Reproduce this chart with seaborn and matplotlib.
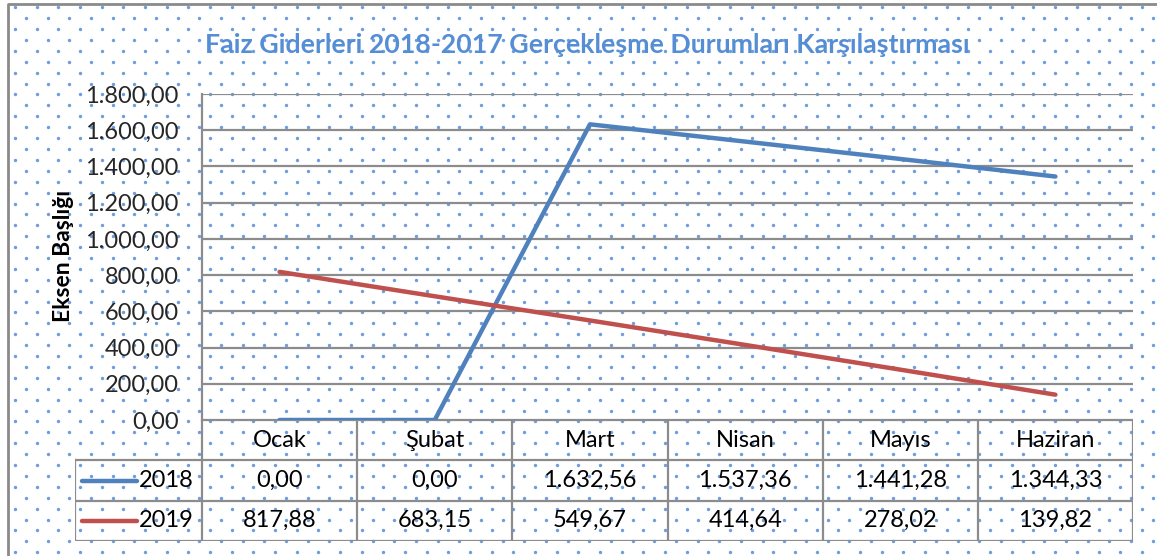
import numpy as np
import pandas as pd
import matplotlib
matplotlib.use("Agg")
import matplotlib.pyplot as plt
import seaborn as sns

# --- data ---
MONTHS = ['Ocak', 'Şubat', 'Mart', 'Nisan', 'Mayıs', 'Haziran']
SERIES = ['2018', '2019']
VALUES_2018 = [0.00, 0.00, 1632.56, 1537.36, 1441.28, 1344.33]
VALUES_2019 = [817.88, 683.15, 549.67, 414.64, 278.02, 139.82]
Y_TICKS = [0, 200, 400, 600, 800, 1000, 1200, 1400, 1600, 1800]
TITLE = 'Faiz Giderleri 2018-2017 Gerçekleşme Durumları Karşılaştırması'
Y_LABEL = 'Eksen Başlığı'
COLORS = {'2018': '#4F81BD', '2019': '#C0504D'}

GRID = '#8c8c8c'
DOT = '#6d9ddb'


def tr_fmt(v):
    """Türkçe sayı biçimi: 1.632,56"""
    s = f"{v:,.2f}"
    return s.replace(',', 'X').replace('.', ',').replace('X', '.')


df = pd.DataFrame({
    'ay': MONTHS * 2,
    'seri': ['2018'] * len(MONTHS) + ['2019'] * len(MONTHS),
    'deger': VALUES_2018 + VALUES_2019,
})
df['idx'] = list(range(len(MONTHS))) * 2

sns.set_theme(style='white')
plt.rcParams['font.family'] = ['Lato', 'DejaVu Sans']

W, H = 1157, 556
fig = plt.figure(figsize=(W / 100, H / 100), dpi=100)

# --- dotted background (Excel pattern fill) ---
bg = fig.add_axes([0, 0, 1, 1])
bg.set_xlim(0, W)
bg.set_ylim(H, 0)
bg.axis('off')
dx, dy = 21.67, 10.9
pts = []
for r, yy in enumerate(np.arange(7.3, H, dy)):
    x0 = 15 if r % 2 == 0 else 15 + dx / 2
    for xx in np.arange(x0, W, dx):
        pts.append((xx, yy))
pts = np.array(pts)
bg.scatter(pts[:, 0], pts[:, 1], s=6, color=DOT, linewidths=0, zorder=0)
bg.plot([8, 8, W], [H, 4, 4], color='#8a8a8a', lw=2, zorder=1)

# --- plot area ---
left, right = 202 / W, 1133 / W
bottom, top = 1 - 420 / H, 1 - 94 / H
ax = fig.add_axes([left, bottom, right - left, top - bottom])
ax.patch.set_alpha(0)
sns.lineplot(data=df, x='idx', y='deger', hue='seri', palette=COLORS,
             linewidth=3.2, legend=False, sort=False, ax=ax, zorder=3)
ax.set_xlim(-0.5, len(MONTHS) - 0.5)
ax.set_ylim(0, 1800)
ax.set_yticks(Y_TICKS)
ax.set_yticklabels([tr_fmt(v) for v in Y_TICKS], fontsize=17)
ax.set_xticks([])
ax.tick_params(axis='y', length=0, pad=17)
ax.yaxis.grid(True, color=GRID, lw=1.6)
ax.set_axisbelow(True)
for s in ['top', 'right', 'bottom']:
    ax.spines[s].set_visible(False)
ax.spines['left'].set_color(GRID)
ax.spines['left'].set_linewidth(1.6)
ax.set_xlabel('')
ax.set_ylabel('')

fig.text(63 / W, 1 - 256 / H, Y_LABEL, rotation=90, ha='center', va='center',
         fontsize=16.5, fontweight='bold', color='black')
fig.text(587 / W, 1 - 45 / H, TITLE, ha='center', va='center',
         fontsize=19.3, fontweight='bold', color='#558ED5')

# --- data table ---
cw = 155.0
leg_w = (202 - 75) / cw
tb = fig.add_axes([75 / W, 1 - 541 / H, (1133 - 75) / W, (541 - 420) / H])
tb.patch.set_alpha(0)
tb.axis('off')
tb.set_xlim(-0.5 - leg_w, len(MONTHS) - 0.5)
tb.set_ylim(3, 0)
n = len(MONTHS)
kw = dict(color=GRID, lw=1.6, solid_capstyle='projecting')
# horizontal lines
tb.plot([-0.5, n - 0.5], [0, 0], **kw)
for yy in [1, 2, 3]:
    tb.plot([-0.5 - leg_w, n - 0.5], [yy, yy], **kw)
# vertical lines
tb.plot([-0.5 - leg_w, -0.5 - leg_w], [1, 3], **kw)
for i in range(n + 1):
    tb.plot([i - 0.5, i - 0.5], [0, 3], **kw)

for i, m in enumerate(MONTHS):
    tb.text(i, 0.5, m, ha='center', va='center', fontsize=17, color='black')
for r, (name, vals) in enumerate(zip(SERIES, [VALUES_2018, VALUES_2019]), start=1):
    for i, v in enumerate(vals):
        tb.text(i, r + 0.5, tr_fmt(v), ha='center', va='center', fontsize=17, color='black')
    x_a = -0.5 - leg_w + 7 / cw
    x_b = -0.5 - leg_w + 62 / cw
    tb.plot([x_a, x_b], [r + 0.5, r + 0.5], color=COLORS[name], lw=3.2,
            solid_capstyle='round')
    tb.text(-0.5 - 8 / cw, r + 0.5, name, ha='right', va='center', fontsize=17, color='black')

fig.savefig('out.png', dpi=100)
